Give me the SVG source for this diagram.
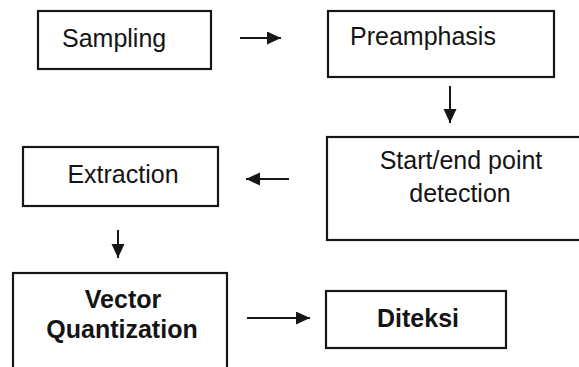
<svg xmlns="http://www.w3.org/2000/svg" width="579" height="367" viewBox="0 0 579 367">
<style>
.box{fill:#fff;stroke:#161616;stroke-width:2.2}
.t{font-family:"Liberation Sans",Arial,sans-serif;font-size:25px;fill:#141414}
.b{font-weight:bold}
.c{stroke:#161616;stroke-width:2;fill:none}
</style>
<defs>
<marker id="ah" markerUnits="userSpaceOnUse" markerWidth="15" markerHeight="14" refX="14" refY="6.5" orient="auto">
<path d="M0,0 L14,6.5 L0,13 Z" fill="#161616"/>
</marker>
</defs>
<rect width="579" height="367" fill="#fff"/>
<g id="sampling">
<rect class="box" x="38" y="11" width="173" height="58"/>
<text class="t" x="62" y="47">Sampling</text>
</g>
<g id="preamphasis">
<rect class="box" x="328" y="11" width="226" height="66"/>
<text class="t" x="350" y="45">Preamphasis</text>
</g>
<g id="startend">
<rect class="box" x="327" y="137" width="270" height="103"/>
<text class="t" x="461" y="169" text-anchor="middle">Start/end point</text>
<text class="t" x="460" y="202" text-anchor="middle">detection</text>
</g>
<g id="extraction">
<rect class="box" x="23" y="147" width="195" height="59"/>
<text class="t" x="123" y="183" text-anchor="middle">Extraction</text>
</g>
<g id="vq">
<rect class="box" x="13" y="273" width="214" height="110"/>
<text class="t b" x="123" y="308" text-anchor="middle">Vector</text>
<text class="t b" x="122" y="338" text-anchor="middle">Quantization</text>
</g>
<g id="diteksi">
<rect class="box" x="326" y="291" width="180" height="57"/>
<text class="t b" x="418" y="327" text-anchor="middle">Diteksi</text>
</g>
<g id="connectors">
<line class="c" x1="240" y1="38" x2="281" y2="38" marker-end="url(#ah)"/>
<line class="c" x1="450" y1="86" x2="450" y2="123" marker-end="url(#ah)"/>
<line class="c" x1="289" y1="179" x2="246" y2="179" marker-end="url(#ah)"/>
<line class="c" x1="118" y1="230" x2="118" y2="258" marker-end="url(#ah)"/>
<line class="c" x1="247" y1="318" x2="310" y2="318" marker-end="url(#ah)"/>
</g>
</svg>
